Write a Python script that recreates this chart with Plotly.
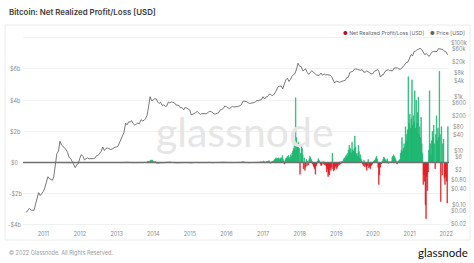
import numpy as np
import pandas as pd
import plotly.graph_objects as go

# ---------------- data ----------------
# BTC price (USD), semi-monthly (1st / 15th), from 2010-07-15
price_2010 = [0.05, 0.06, 0.07, 0.06, 0.06, 0.06, 0.10, 0.19, 0.27, 0.21, 0.25]
price_2011 = [0.30, 0.40, 0.72, 1.05, 0.90, 0.86, 0.78, 1.05, 3.3, 7.5, 9.5, 22,
              16, 14, 13, 11, 8.2, 5.5, 5.0, 4.0, 3.2, 2.3, 3.0, 3.2]
price_2012 = [5.3, 7.0, 6.0, 4.5, 4.9, 5.3, 4.9, 4.9, 5.0, 5.0, 5.3, 6.4,
              6.7, 7.6, 9.3, 13.5, 10.0, 11.8, 12.4, 11.8, 10.8, 11.2, 12.5, 13.3]
price_2013 = [13.5, 14.5, 20.5, 27, 34, 47, 104, 90, 116, 115, 128, 100,
              88, 98, 105, 98, 140, 127, 132, 150, 205, 420, 1000, 720]
price_2014 = [750, 850, 830, 640, 560, 630, 470, 500, 440, 450, 630, 590,
              640, 620, 590, 500, 475, 470, 385, 395, 325, 400, 380, 350]
price_2015 = [320, 210, 225, 235, 255, 285, 245, 220, 235, 237, 225, 235,
              260, 285, 280, 262, 228, 230, 237, 255, 325, 330, 365, 450]
price_2016 = [430, 385, 370, 400, 435, 415, 416, 428, 448, 455, 535, 690,
              670, 665, 610, 570, 570, 608, 610, 640, 730, 715, 750, 780]
price_2017 = [1000, 820, 990, 1010, 1220, 1250, 1080, 1180, 1420, 1730, 2400, 2450,
              2500, 1930, 2730, 4200, 4900, 3700, 4400, 5700, 6700, 7300, 10900, 17700]
price_2018 = [13500, 13600, 9100, 10200, 10900, 8200, 6800, 8000, 9100, 8500, 7500, 6500,
              6300, 6300, 7600, 6300, 7100, 6500, 6600, 6650, 6350, 5600, 4200, 3250]
price_2019 = [3850, 3600, 3450, 3600, 3850, 3930, 4100, 5100, 5350, 7950, 8550, 8750,
              10600, 10900, 10400, 10300, 9630, 10300, 8300, 8150, 9150, 8500, 7400, 7100]
price_2020 = [7200, 8800, 9400, 10300, 8600, 5400, 6400, 6650, 8800, 9300, 10200, 9400,
              9230, 9200, 11800, 11850, 11900, 10800, 10600, 11500, 13800, 16000, 18800, 19400]
price_2021 = [29400, 36800, 33500, 48600, 49600, 56000, 58800, 63300, 57800, 46500, 36700, 40200,
              33500, 31800, 39900, 47000, 48800, 48100, 48200, 61500, 61300, 60100, 57200, 48900]
price_2022 = [46000, 36000]

# Net realized profit/loss (USD billions)
nrpl_monthly_2010_2016 = [
    0.000, 0.000, 0.000, 0.001, 0.002, 0.001,
    0.001, 0.002, 0.001, 0.002, 0.006, 0.010, -0.004, -0.006, -0.005, -0.004, -0.002, 0.002,
    0.003, 0.002, 0.001, 0.001, 0.001, 0.002, 0.003, 0.004, 0.003, 0.002, 0.002, 0.003,
    0.005, 0.008, 0.015, 0.030, 0.010, -0.008, -0.004, 0.006, 0.005, 0.012, 0.080, 0.150,
    0.060, -0.040, -0.025, -0.020, 0.030, 0.040, 0.012, -0.020, -0.025, -0.012, 0.010, -0.010,
    -0.030, 0.004, 0.006, -0.005, 0.002, 0.005, 0.012, -0.010, 0.002, 0.010, 0.030, 0.030,
    0.010, 0.012, 0.004, 0.006, 0.020, 0.050, 0.012, -0.008, 0.004, 0.012, 0.025, 0.045]
nrpl_2017 = [0.10, 0.06, 0.03, 0.04, 0.05, 0.06, 0.08, 0.10, 0.12, 0.05, -0.04, 0.03,
             0.05, 0.08, 0.10, 0.12, 0.20, 0.25, 0.30, 0.22, 0.28, 0.25, 0.30, 0.20,
             0.25, 0.30, 0.28, 0.45, 0.20, 0.10, -0.10, 0.15, 0.25, 0.30, 0.40, 0.30,
             0.45, 0.25, 0.35, 0.50, 0.40, 0.60, 0.75, 0.90, 1.10, 0.80, 4.15, 1.60,
             1.20, 1.00, 1.30, 0.90]
nrpl_2018 = [-0.75, 0.60, 1.10, 0.90, 0.50, -0.40, 0.30, -0.50, -0.30, 0.20, -0.20, 0.10,
             -0.15, 0.20, 0.40, 0.30, 0.20, 0.10, -0.10, -0.20, -0.30, -0.40, -0.75, -0.20,
             -0.10, 0.10, 0.25, 0.15, 0.10, -0.10, -0.20, -0.15, 0.05, -0.10, 0.05, -0.15,
             -0.10, -0.20, -0.60, -0.40, -0.90, -0.70, -0.80, -0.30, -0.50, -0.30, 0.60, -0.40,
             -0.55, -0.45, -0.30, -0.20]
nrpl_2019 = [-0.40, -0.30, -0.20, -0.10, -0.15, 0.05, -0.10, 0.05, 0.10, 0.05, 0.20, 0.30,
             0.25, 0.40, 0.50, 0.35, 0.60, 0.80, 1.10, 0.70, 0.90, 0.60, 1.30, 0.80,
             0.70, 0.90, 1.70, 1.00, 0.50, 0.60, 0.40, 1.10, 0.70, 0.30, 0.50, 0.20,
             0.10, -0.10, -0.20, 0.15, -0.25, -0.15, -0.30, -0.50, -0.20, 0.20, -0.35, -0.25,
             -0.40, -0.20, -0.15, -0.10]
nrpl_2020 = [0.05, 0.10, 0.15, 0.20, 0.30, 0.40, 0.20, -0.30, -1.40, -0.80, -0.30, -0.10,
             -0.05, 0.10, 0.20, 0.35, 0.30, 0.20, 0.15, 0.10, 0.25, 0.10, -0.05, 0.05,
             0.05, 0.00, 0.10, 0.30, 0.40, 0.50, 0.40, 0.30, 0.20, 0.10, -0.10, 0.05,
             0.10, 0.15, 0.20, 0.60, 0.80, 1.60, 0.70, 0.90, 1.20, 1.00, 2.30, 1.40,
             1.80, 2.10, 5.50, 2.50]
nrpl_2021 = [3.10, 2.20, 2.80, 5.30, 2.40, 3.00, 2.60, 4.60, 2.20, 4.00, 2.50, 3.20,
             4.20, 1.80, 2.30, 1.60, 2.90, 1.20, 0.60, -1.40, -0.80, -1.20, -2.70, -3.60,
             -0.90, -1.80, -0.60, 0.80, 4.60, 1.20, 0.50, 1.40, 2.00, 1.60, 2.40, 1.20,
             -0.40, 1.80, 3.00, 1.40, 2.20, 1.60, 5.85, 1.80, -2.50, 2.30, -0.80, 1.20,
             1.50, -1.00, -1.40, -0.90]
nrpl_2022 = [-1.20, -2.60, 2.30]

# axis ticks
left_tickvals = [-4, -2, 0, 2, 4, 6, 8]
left_ticktext = ['-$4b', '-$2b', '$0', '$2b', '$4b', '$6b', '']
right_tickvals = [0.02, 0.06, 0.1, 0.4, 0.8, 2, 6, 10, 40, 80, 200, 600, 1000, 4000, 8000,
                  20000, 60000, 100000]
right_ticktext = ['$0.02', '$0.06', '$0.10', '$0.40', '$0.80', '$2', '$6', '$10', '$40', '$80',
                  '$200', '$600', '$1k', '$4k', '$8k', '$20k', '$60k', '$100k']
year_ticks = [str(y) for y in range(2011, 2023)]

# ---------------- assemble ----------------
price = (price_2010 + price_2011 + price_2012 + price_2013 + price_2014 + price_2015 +
         price_2016 + price_2017 + price_2018 + price_2019 + price_2020 + price_2021 + price_2022)
price_dates = pd.date_range('2010-07-15', periods=len(price), freq='SMS')

DAY_MS = 86400000
nrpl_dates = list(pd.date_range('2010-07-01', periods=len(nrpl_monthly_2010_2016), freq='MS')
                  + pd.Timedelta(days=14))
nrpl_vals = list(nrpl_monthly_2010_2016)
nrpl_width = [28 * DAY_MS] * len(nrpl_monthly_2010_2016)
for yr, vals in [(2017, nrpl_2017), (2018, nrpl_2018), (2019, nrpl_2019), (2020, nrpl_2020),
                 (2021, nrpl_2021), (2022, nrpl_2022)]:
    nrpl_dates += list(pd.date_range(f'{yr}-01-04', periods=len(vals), freq='7D'))
    nrpl_vals += vals
    nrpl_width += [6.2 * DAY_MS] * len(vals)
nrpl_vals = np.array(nrpl_vals)

GREEN = '#16b46c'
RED = '#e2151c'
PRICE = '#555555'
TICK = '#8a8a8a'
bar_colors = np.where(nrpl_vals >= 0, GREEN, RED)

# layout geometry (pixels)
W, H = 474, 263
ML, MR, MT, MB = 23, 25, 36, 34
PW = W - ML - MR
PH = H - MT - MB


def px(x):
    return (x - ML) / PW


def py(y):
    return (H - MB - y) / PH


fig = go.Figure()
fig.add_trace(go.Bar(x=nrpl_dates, y=nrpl_vals, width=nrpl_width,
                     marker=dict(color=bar_colors, line=dict(width=0.5, color=bar_colors)),
                     hoverinfo='skip', showlegend=False))
fig.add_trace(go.Scatter(x=price_dates, y=price, mode='lines', yaxis='y2',
                         line=dict(color=PRICE, width=0.8), showlegend=False))

annotations = []
for v, t in zip(left_tickvals, left_ticktext):
    if t:
        annotations.append(dict(x=px(15), xref='paper', y=v, yref='y', text=t, showarrow=False,
                                xanchor='center', yanchor='middle',
                                font=dict(size=5.5, color=TICK, family='Inter')))
for v, t in zip(right_tickvals, right_ticktext):
    annotations.append(dict(x=px(459), xref='paper', y=np.log10(v), yref='y2', text=t,
                            showarrow=False, xanchor='center', yanchor='middle',
                            font=dict(size=5.5, color=TICK, family='Inter')))
annotations.append(dict(x=px(7), y=py(12), xref='paper', yref='paper', xanchor='left',
                        yanchor='middle', showarrow=False,
                        text='Bitcoin: Net Realized Profit/Loss [USD]',
                        font=dict(size=7.9, color='#3a3a3a', family='Inter', weight=600)))
annotations.append(dict(x=px(341), y=py(33), xref='paper', yref='paper', xanchor='left',
                        yanchor='middle', showarrow=False,
                        text="<span style='color:#b5121b'>●</span> Net Realized Profit/Loss [USD]",
                        font=dict(size=5.2, color='#666', family='Inter')))
annotations.append(dict(x=px(428), y=py(33), xref='paper', yref='paper', xanchor='left',
                        yanchor='middle', showarrow=False,
                        text="<span style='color:#666'>●</span> Price [USD]",
                        font=dict(size=5.2, color='#666', family='Inter')))
annotations.append(dict(x=px(245), y=py(131), xref='paper', yref='paper', xanchor='center',
                        yanchor='middle', showarrow=False, text='glassnode',
                        font=dict(size=41, color='#e6e6e6', family='Lato')))
annotations.append(dict(x=px(7), y=py(252), xref='paper', yref='paper', xanchor='left',
                        yanchor='middle', showarrow=False,
                        text='© 2022 Glassnode. All Rights Reserved.',
                        font=dict(size=5.5, color='#9a9a9a', family='Inter')))
annotations.append(dict(x=px(470), y=py(252), xref='paper', yref='paper', xanchor='right',
                        yanchor='middle', showarrow=False, text='glassnode',
                        font=dict(size=11.5, color='#111', family='Lato')))

shapes = [
    dict(type='rect', xref='paper', yref='paper', x0=px(5), x1=px(470), y0=py(240), y1=py(25),
         line=dict(color='#ececec', width=1), layer='below'),
    dict(type='line', xref='paper', yref='y', x0=0, x1=1, y0=0, y1=0,
         line=dict(color='#707070', width=1.4), layer='above'),
]

fig.update_layout(
    width=W, height=H,
    margin=dict(l=ML, r=MR, t=MT, b=MB),
    paper_bgcolor='white', plot_bgcolor='white',
    showlegend=False, bargap=0.05,
    xaxis=dict(type='date', range=['2010-06-12', '2022-01-29'],
               tickvals=[f'{y}-01-01' for y in year_ticks], ticktext=year_ticks,
               showgrid=False, zeroline=False, showline=False, ticks='',
               tickfont=dict(size=5.5, color=TICK, family='Inter')),
    yaxis=dict(range=[-4.26, 8.11], tickvals=left_tickvals, showticklabels=False,
               showgrid=True, gridcolor='#f1f1f1', gridwidth=0.7, zeroline=False,
               showline=False, ticks=''),
    yaxis2=dict(type='log', overlaying='y', side='right', range=[-1.922, 5.26],
                showticklabels=False, showgrid=False, zeroline=False, showline=False,
                ticks=''),
    annotations=annotations,
    shapes=shapes,
)

fig.write_html('out.html')
